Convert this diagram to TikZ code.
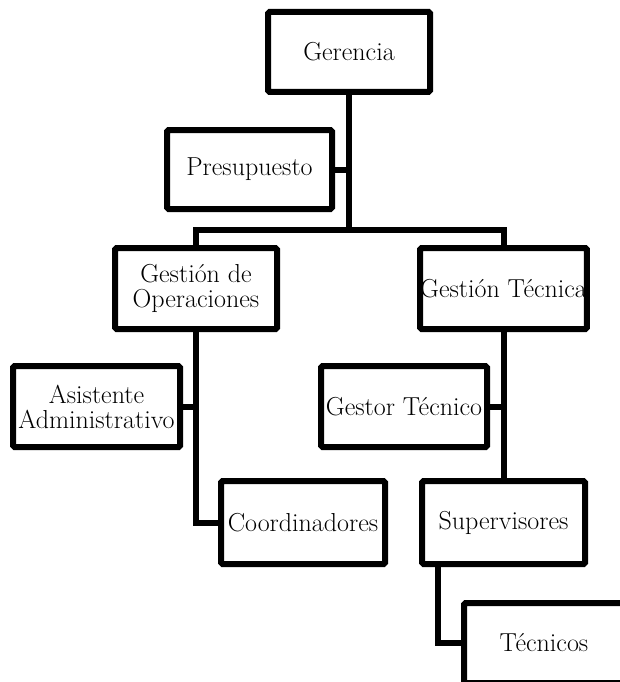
\documentclass[tikz,border=0pt]{standalone}
\usepackage{tikz}
\tikzset{
  caja/.style={draw, line width=6pt, rounded corners=1.5pt, fill=white,
    align=center, inner sep=0pt, font=\fontsize{26}{25}\selectfont},
  enlace/.style={line width=6pt}
}
\begin{document}
\begin{tikzpicture}[x=1pt,y=-1pt]
  \clip (0,0) rectangle (620,682);
  % cajas
  \node [caja, minimum width=162, minimum height=80] (G) at (349,52) {Gerencia};
  \node [caja, minimum width=165, minimum height=79] (P) at (249.5,169.5) {Presupuesto};
  \node [caja, minimum width=162, minimum height=81] (GO) at (196,288.5) {Gestión de\\Operaciones};
  \node [caja, minimum width=163, minimum height=81] (GT) at (503.5,288.5) {Gestión Técnica};
  \node [caja, minimum width=167, minimum height=81] (A) at (96.5,406.5) {Asistente\\Administrativo};
  \node [caja, minimum width=166, minimum height=81] (GeT) at (404,406.5) {Gestor Técnico};
  \node [caja, minimum width=164, minimum height=83] (C) at (303,522.5) {Coordinadores};
  \node [caja, minimum width=163, minimum height=83] (S) at (503.5,522.5) {Supervisores};
  \node [caja, minimum width=160, minimum height=80] (T) at (544,643) {Técnicos};
  % enlaces
  \coordinate (barra) at (349,230);
  \draw [enlace] (G.south) -- (barra);
  \draw [enlace] (P.east) -- (P.east -| G.south);
  \draw [enlace] (GO.north) |- (barra) -| (GT.north);
  \draw [enlace] (GO.south) |- (C.west);
  \draw [enlace] (A.east) -- (A.east -| GO.south);
  \draw [enlace] (GT.south) -- (S.north);
  \draw [enlace] (GeT.east) -- (GeT.east -| GT.south);
  \draw [enlace] ([xshift=-65.5pt]S.south) |- (T.west);
\end{tikzpicture}
\end{document}
